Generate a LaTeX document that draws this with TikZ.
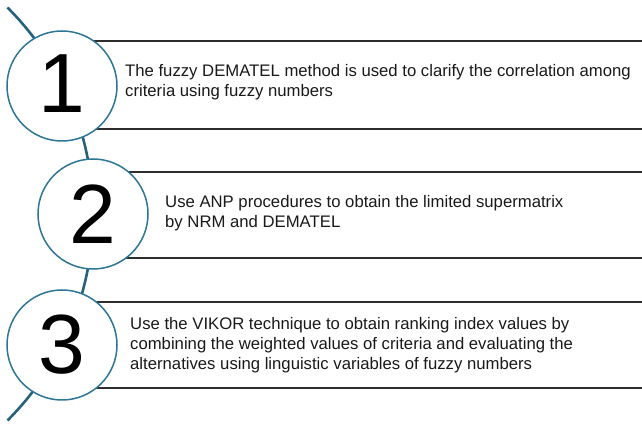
\documentclass[tikz,border=0pt]{standalone}
\usepackage{fontspec}
\setmainfont{Liberation Sans}
\definecolor{arcteal}{RGB}{38,98,125}
\definecolor{ringblue}{RGB}{46,117,150}
\definecolor{bandgray}{RGB}{45,45,45}
\begin{document}
\begin{tikzpicture}[x=1pt,y=1pt,
    arcline/.style={draw=arcteal,line width=2.6pt},
    bandline/.style={draw=bandgray,line width=1.6pt},
    numcircle/.style={draw=ringblue,line width=1.5pt,fill=white,circle,
      minimum size=110pt,inner sep=0pt,font=\fontsize{84}{84}\selectfont},
    steptext/.style={anchor=west,align=left,inner sep=0pt,text=black!90,
      font=\fontsize{16.7}{20}\selectfont}]
    \useasboundingbox (0,0) rectangle (642,425);
    \draw[arcline] (-199,211) ++(45:292) arc[start angle=45,end angle=-45,radius=292];
    \draw[bandline] (62,384) -- (642,384);
    \draw[bandline] (62,296) -- (642,296);
    \draw[bandline] (93,253) -- (642,253);
    \draw[bandline] (93,167) -- (642,167);
    \draw[bandline] (62,123) -- (642,123);
    \draw[bandline] (62,37) -- (642,37);
    \node (n1) at (62,339) [numcircle] {\raisebox{4pt}{1}};
    \node (n2) at (93,211) [numcircle] {2};
    \node (n3) at (62,80) [numcircle] {3};
    \node (t1) at (125,343) [steptext] {The fuzzy DEMATEL method is used to clarify the correlation among\\criteria using fuzzy numbers};
    \node (t2) at (165,212) [steptext] {Use ANP procedures to obtain the limited supermatrix\\by NRM and DEMATEL};
    \node (t3) at (130,80) [steptext] {Use the VIKOR technique to obtain ranking index values by\\combining the weighted values of criteria and evaluating the\\alternatives using linguistic variables of fuzzy numbers};
\end{tikzpicture}
\end{document}
